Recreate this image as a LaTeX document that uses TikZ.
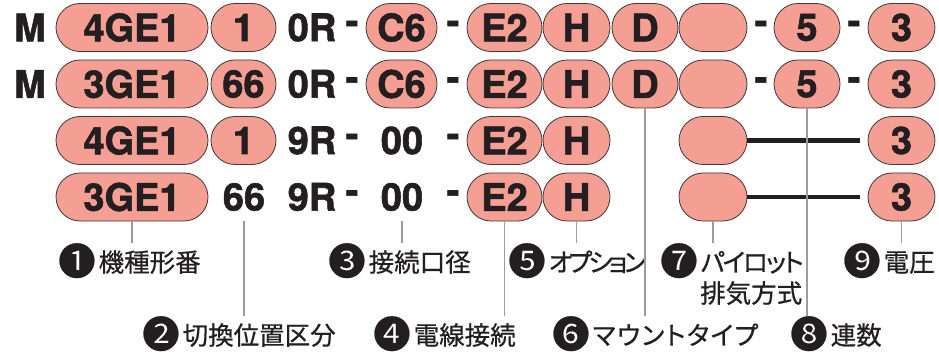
\documentclass[tikz,border=0pt]{standalone}
\usepackage{fontspec}
\usetikzlibrary{shapes.misc}
\newfontfamily\herosfont[FakeBold=1.5]{TeX Gyre Heros}
\newfontfamily\jpfont[RawFeature=+palt,FakeBold=0.6]{Noto Sans CJK JP}
\definecolor{ink}{HTML}{231F20}
\definecolor{salmon}{HTML}{F49E94}
\definecolor{rim}{HTML}{3C3738}
\definecolor{leadgray}{HTML}{9C9C9C}
\newcommand\codefont{\herosfont\bfseries\fontsize{38}{40}\selectfont}
\newcommand\labfont{\jpfont\fontsize{25.5}{30}\selectfont}
\newcommand\numcirc[1]{\raisebox{-3.2pt}{\fontsize{37.5}{38}\selectfont#1}\hspace{3pt}}
\newcommand\kanaspace[1]{\addfontfeature{LetterSpace=#1}}

\begin{document}
\begin{tikzpicture}[x=1pt,y=1pt,
    code/.style={inner sep=0pt,text=ink,font=\codefont},
    pill/.style={rounded rectangle,draw=rim,line width=0.8pt,fill=salmon,
                 minimum height=48pt,inner sep=0pt,text=ink,font=\codefont},
    lab/.style={anchor=west,inner xsep=0pt,inner ysep=6pt,text height=22.4pt,
                text depth=3pt,text=ink,font=\labfont},
    leadline/.style={draw=leadgray,line width=1.6pt},
    bar/.style={draw=ink,line width=4.5pt,shorten >=8pt}]
  \useasboundingbox (0,0) rectangle (939,351);

  % row 1
  \node[code] (mk1) at (30,323.5) {M};
  \node[pill,minimum width=152pt] (type1) at (132,323.5) {4GE1};
  \node[pill,minimum width=65pt] (sw1) at (243.5,323.5) {1};
  \node[code] (port1) at (312,323.5) {0R};
  \node[code] (da1) at (352,323.5) {-};
  \node[pill,minimum width=71pt] (wire1) at (401.5,323.5) {C6};
  \node[code] (db1) at (453,323.5) {-};
  \node[pill,minimum width=75pt] (conn1) at (504.5,323.5) {E2};
  \node[pill,minimum width=67pt] (opt1) at (576.5,323.5) {H};
  \node[pill,minimum width=66pt] (mount1) at (645,323.5) {D};
  \node[pill,minimum width=68pt] (pilot1) at (713,323.5) {};
  \node[code] (dc1) at (761,323.5) {-};
  \node[pill,minimum width=66pt] (nstn1) at (807,323.5) {5};
  \node[code] (dd1) at (854,323.5) {-};
  \node[pill,minimum width=67pt] (volt1) at (901.5,323.5) {3};

  % row 2
  \node[code] (mk2) at (30,267) {M};
  \node[pill,minimum width=152pt] (type2) at (132,267) {3GE1};
  \node[pill,minimum width=65pt] (sw2) at (243.5,267) {66};
  \node[code] (port2) at (312,267) {0R};
  \node[code] (da2) at (352,267) {-};
  \node[pill,minimum width=71pt] (wire2) at (401.5,267) {C6};
  \node[code] (db2) at (453,267) {-};
  \node[pill,minimum width=75pt] (conn2) at (504.5,267) {E2};
  \node[pill,minimum width=67pt] (opt2) at (576.5,267) {H};
  \node[pill,minimum width=66pt] (mount2) at (645,267) {D};
  \node[pill,minimum width=68pt] (pilot2) at (713,267) {};
  \node[code] (dc2) at (761,267) {-};
  \node[pill,minimum width=66pt] (nstn2) at (807,267) {5};
  \node[code] (dd2) at (854,267) {-};
  \node[pill,minimum width=67pt] (volt2) at (901.5,267) {3};

  % row 3
  \node[pill,minimum width=152pt] (type3) at (132,210.5) {4GE1};
  \node[pill,minimum width=65pt] (sw3) at (243.5,210.5) {1};
  \node[code] (port3) at (312,210.5) {9R};
  \node[code] (da3) at (352,210.5) {-};
  \node[code] (wire3) at (402,210.5) {00};
  \node[code] (db3) at (453,210.5) {-};
  \node[pill,minimum width=75pt] (conn3) at (504.5,210.5) {E2};
  \node[pill,minimum width=67pt] (opt3) at (576.5,210.5) {H};
  \node[pill,minimum width=68pt] (pilot3) at (713,210.5) {};
  \node[pill,minimum width=67pt] (volt3) at (901.5,210.5) {3};

  % row 4
  \node[pill,minimum width=152pt] (type4) at (132,154) {3GE1};
  \node[code] (sw4) at (244,154) {66};
  \node[code] (port4) at (312,154) {9R};
  \node[code] (da4) at (352,154) {-};
  \node[code] (wire4) at (402,154) {00};
  \node[code] (db4) at (453,154) {-};
  \node[pill,minimum width=75pt] (conn4) at (504.5,154) {E2};
  \node[pill,minimum width=67pt] (opt4) at (576.5,154) {H};
  \node[pill,minimum width=68pt] (pilot4) at (713,154) {};
  \node[pill,minimum width=67pt] (volt4) at (901.5,154) {3};

  % labels
  \node[lab] (l1) at (58,89) {\numcirc{❶}機種形番};
  \node[lab] (l2) at (142,16) {\numcirc{❷}切換位置区分};
  \node[lab] (l3) at (328,89) {\numcirc{❸}接続口径};
  \node[lab] (l4) at (373,16) {\numcirc{❹}電線接続};
  \node[lab] (l5) at (508,89) {\numcirc{❺}{\kanaspace{-14}オプション}};
  \node[lab] (l6) at (552,16) {\numcirc{❻}{\kanaspace{6}マウントタイプ}};
  \node[lab] (l7) at (660,89) {\numcirc{❼}{\kanaspace{-8}パイロット}};
  \node[lab] (l7b) at (700,58) {排気方式};
  \node[lab] (l8) at (790,16) {\numcirc{❽}連数};
  \node[lab] (l9) at (843,89) {\numcirc{❾}電圧};

  \draw[bar] (pilot3.east) -- (volt3.west);
  \draw[bar] (pilot4.east) -- (volt4.west);

  \draw[leadline] (type4.south) -- (type4 |- l1.north);
  \draw[leadline] (sw4 |- type4.south) -- (sw4 |- l2.north);
  \draw[leadline] (wire4 |- type4.south) -- (wire4 |- l3.north);
  \draw[leadline] (conn4.south) -- (conn4 |- l4.north);
  \draw[leadline] (opt4.south) -- (opt4 |- l5.north);
  \draw[leadline] (mount2.south) -- (mount2 |- l6.north);
  \draw[leadline] (pilot4.south) -- (pilot4 |- l7.north);
  \draw[leadline] (nstn2.south) -- (nstn2 |- l8.north);
  \draw[leadline] (volt4.south) -- (volt4 |- l9.north);
\end{tikzpicture}
\end{document}
